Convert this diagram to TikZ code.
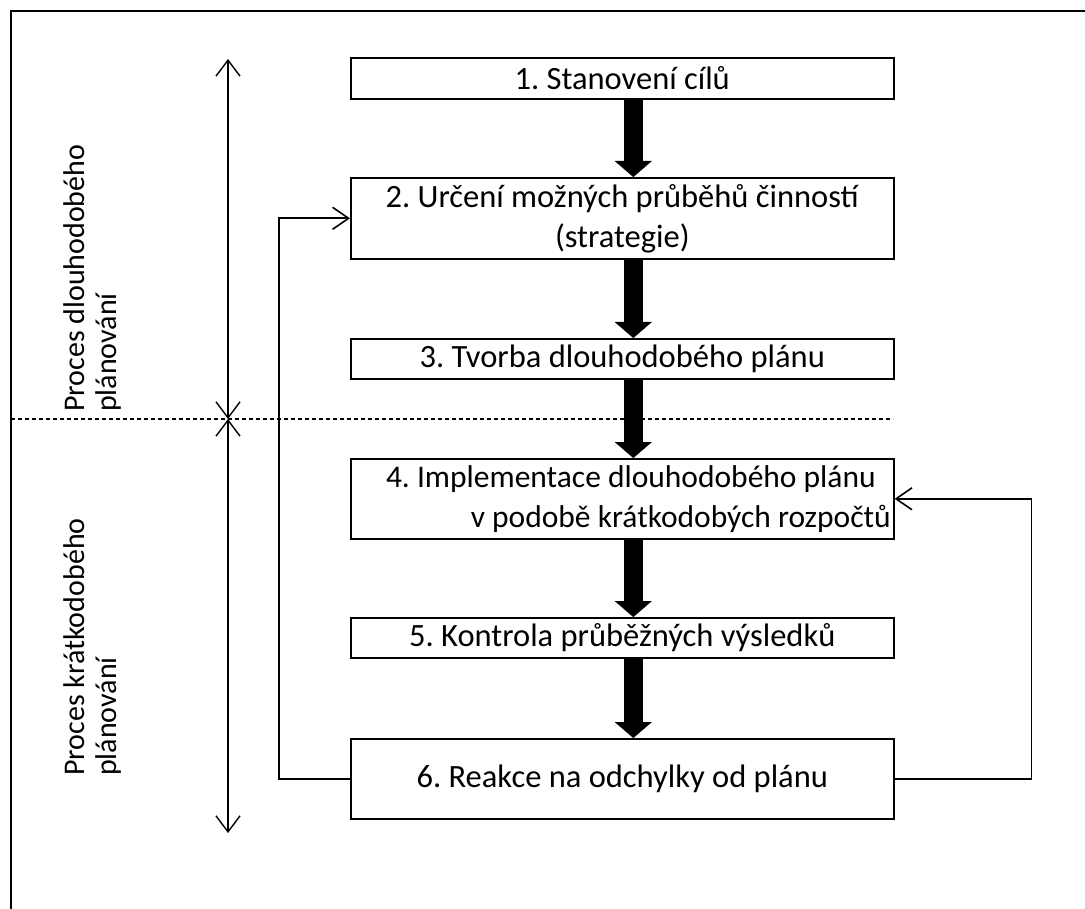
\documentclass[tikz,border=0pt]{standalone}
\usepackage{fontspec}
\setmainfont{Carlito}
\usetikzlibrary{arrows.meta}
\frenchspacing
\begin{document}
\begin{tikzpicture}[x=1pt,y=-1pt,
  stepbox/.style={draw,line width=1.6pt,minimum width=543pt,inner sep=0pt,anchor=north west,align=center,font=\fontsize{32.5}{40}\selectfont},
  bigarrow/.style={line width=19pt,-{Triangle[length=16pt,width=37pt,line width=0.1pt]}},
  fbarrow/.style={line width=1.6pt,-{Straight Barb[length=16pt,width=22pt]}},
  sidelabel/.style={rotate=90,anchor=north west,align=left,inner sep=0pt,font=\fontsize{30}{32}\selectfont}]
\useasboundingbox (0,0) rectangle (1085,909);
\fill[white] (0,0) rectangle (1085,909);
% frame
\draw[line width=2.5pt] (11,909) -- (11,11) -- (1085,11);
% boxes
\node[stepbox,minimum height=41pt] (b1) at (350,57) {1. Stanovení cílů};
\node[stepbox,minimum height=81pt] (b2) at (350,177) {2. Určení možných průběhů činností\\(strategie)};
\node[stepbox,minimum height=40pt] (b3) at (350,338) {3. Tvorba dlouhodobého plánu};
\node[stepbox,minimum height=80pt,align=flush right,text width=537pt,inner xsep=2pt,font=\fontsize{31.5}{40}\selectfont] (b4) at (350,458) {4. Implementace dlouhodobého plánu\rule{15pt}{0pt}\\v podobě krátkodobých rozpočtů};
\node[stepbox,minimum height=40pt] (b5) at (350,617) {5. Kontrola průběžných výsledků};
\node[stepbox,minimum height=80pt] (b6) at (350,738) {6. Reakce na odchylky od plánu};
% thick arrows
\foreach \a/\b in {b1/b2,b2/b3,b3/b4,b4/b5,b5/b6}
  \draw[bigarrow] ([xshift=11pt]\a.south) -- ([xshift=11pt]\b.north);
% feedback loops
\draw[fbarrow] (b6.west) -- ++(-71,0) |- (b2.west);
\draw[fbarrow] (b6.east) -- ++(137,0) |- (b4.east);
% divider
\coordinate (dl) at (11,419);
\coordinate (dr) at (893,419);
\draw[line width=1.3pt,dash pattern=on 4pt off 3pt] (dl) -- (dr);
% double arrows
\coordinate (dtop) at (228,59);
\coordinate (dmid) at (228,419);
\coordinate (dbot) at (228,833);
\draw[line width=1.4pt,{Straight Barb[length=16pt,width=24pt]}-{Straight Barb[length=16pt,width=24pt]}] (dtop) -- (dmid);
\draw[line width=1.4pt,{Straight Barb[length=16pt,width=24pt]}-{Straight Barb[length=16pt,width=24pt]}] (dmid) -- (dbot);
% side labels
\node[sidelabel] (l1) at (63,412) {Proces dlouhodobého\\plánování};
\node[sidelabel] (l2) at (63,776) {Proces krátkodobého\\plánování};
\end{tikzpicture}
\end{document}
